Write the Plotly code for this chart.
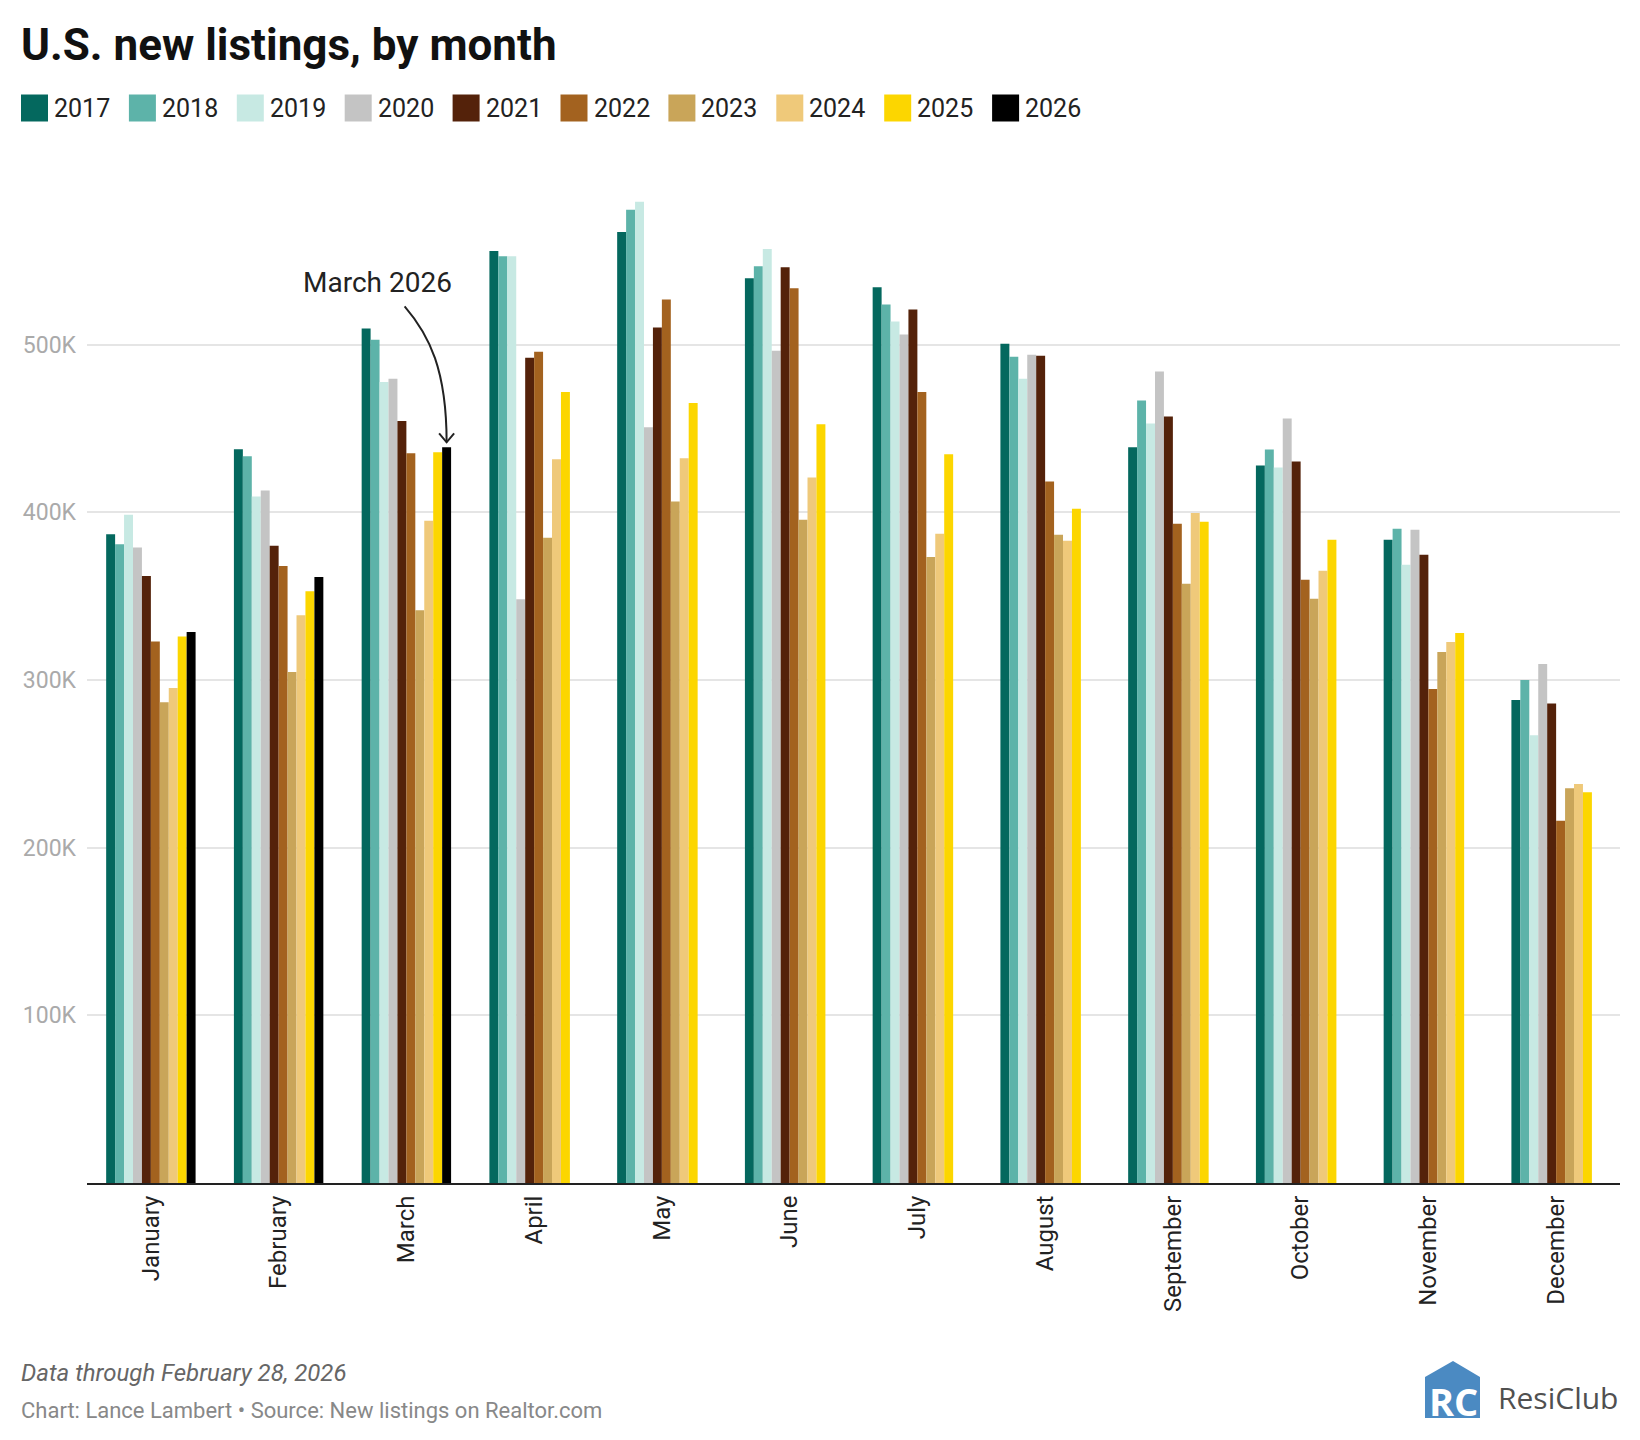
import plotly.graph_objects as go

# ---------------- data ----------------
months = ["January", "February", "March", "April", "May", "June", "July",
          "August", "September", "October", "November", "December"]
years = ["2017", "2018", "2019", "2020", "2021", "2022", "2023", "2024", "2025", "2026"]
colors = ["#04685e", "#5db3a9", "#c7e9e3", "#c4c4c4", "#54220a",
          "#a3621f", "#c9a559", "#efc97a", "#fcd600", "#000000"]

listings_2017 = [387000, 437600, 509600, 555800, 567200, 539600, 534200, 500600, 438800, 427900, 383700, 288000]
listings_2018 = [381000, 433400, 503000, 552800, 580400, 546800, 524000, 492800, 466700, 437500, 390200, 300000]
listings_2019 = [398600, 409400, 477800, 552800, 585200, 557000, 513800, 479600, 453000, 426700, 368700, 267000]
listings_2020 = [379000, 413000, 479600, 348200, 450800, 496400, 506000, 494000, 484000, 456000, 389600, 309500]
listings_2021 = [362000, 380000, 454400, 492200, 510200, 546200, 521000, 493400, 457200, 430300, 374700, 286000]
listings_2022 = [323000, 368000, 435200, 495800, 527000, 533600, 471800, 418400, 393200, 359800, 294600, 216000]
listings_2023 = [286800, 304700, 341600, 384800, 406400, 395600, 373400, 386600, 357400, 348400, 316700, 235500]
listings_2024 = [295200, 338600, 395000, 431600, 432200, 420800, 387200, 383000, 399600, 365100, 322700, 238000]
listings_2025 = [326000, 353000, 435800, 471800, 465200, 452600, 434600, 402200, 394400, 383700, 328000, 233000]
listings_2026 = [328600, 361400, 438800, None, None, None, None, None, None, None, None, None]

series = [listings_2017, listings_2018, listings_2019, listings_2020, listings_2021,
          listings_2022, listings_2023, listings_2024, listings_2025, listings_2026]

y_tick_vals = [100000, 200000, 300000, 400000, 500000]
y_tick_text = ["100K", "200K", "300K", "400K", "500K"]
y_max = 600000

title_text = "U.S. new listings, by month"
note_text = "Data through February 28, 2026"
credit_text = "Chart: Lance Lambert • Source: New listings on Realtor.com"
callout_text = "March 2026"
callout_month = "March"
callout_year = "2026"

# ---------------- layout geometry ----------------
W, H = 1640, 1440
ML, MR, MT, MB = 87, 20, 177, 257
PW, PH = W - ML - MR, H - MT - MB
BARGAP = 0.3
FONT = "Roboto"


def px(x):
    return (x - ML) / PW


def py(y):
    return (H - MB - y) / PH


fig = go.Figure()
for yr, col, vals in zip(years, colors, series):
    fig.add_trace(go.Bar(x=months, y=vals, name=yr, marker_color=col,
                         marker_line_width=0, hoverinfo="x+y+name"))

shapes = []
annotations = []

# title
annotations.append(dict(text="<b>" + title_text + "</b>", x=px(19), y=py(45),
                        xref="paper", yref="paper", xanchor="left", yanchor="middle",
                        showarrow=False, font=dict(family=FONT, size=44, color="#111111")))

# custom legend
for i, (yr, col) in enumerate(zip(years, colors)):
    x0 = 21 + i * 107.9
    shapes.append(dict(type="rect", xref="paper", yref="paper",
                       x0=px(x0), x1=px(x0 + 27), y0=py(94.5), y1=py(121.5),
                       fillcolor=col, line=dict(width=0)))
    annotations.append(dict(text=yr, x=px(x0 + 31), y=py(108), xref="paper", yref="paper",
                            xanchor="left", yanchor="middle", showarrow=False,
                            font=dict(family=FONT, size=25, color="#222222")))

# callout with curved arrow, tip computed from the bar position
ci = months.index(callout_month)
yi = years.index(callout_year)
n = len(years)
bw = (1 - BARGAP) / n
x_data = ci - (1 - BARGAP) / 2 + (yi + 0.5) * bw
tip_x = ML + (x_data + 0.5) / len(months) * PW
tip_y = H - MB - series[yi][ci] / y_max * PH - 5


def P(dx, dy):
    return "%f,%f" % (px(tip_x + dx), py(tip_y + dy))


shapes.append(dict(type="path", xref="paper", yref="paper",
                   path="M " + P(-42, -136) + " C " + P(-17, -107) + " " + P(0, -72) + " " + P(0, 0),
                   line=dict(color="#222222", width=2)))
shapes.append(dict(type="path", xref="paper", yref="paper",
                   path="M " + P(-7.5, -9) + " L " + P(0, 0) + " L " + P(7.5, -9),
                   line=dict(color="#222222", width=2)))
annotations.append(dict(text=callout_text, x=px(tip_x - 69), y=py(tip_y - 160),
                        xref="paper", yref="paper", xanchor="center", yanchor="middle",
                        showarrow=False, font=dict(family=FONT, size=28, color="#222222")))

# footer
annotations.append(dict(text="<i>" + note_text + "</i>", x=px(19), y=py(1373),
                        xref="paper", yref="paper", xanchor="left", yanchor="middle",
                        showarrow=False, font=dict(family=FONT, size=24, color="#666666")))
annotations.append(dict(text=credit_text, x=px(19), y=py(1410),
                        xref="paper", yref="paper", xanchor="left", yanchor="middle",
                        showarrow=False, font=dict(family=FONT, size=22, color="#888888")))

# logo
house = [(1425, 1418), (1425, 1377), (1453, 1361), (1480, 1377), (1480, 1418)]
shapes.append(dict(type="path", xref="paper", yref="paper",
                   path="M " + " L ".join("%f,%f" % (px(a), py(b)) for a, b in house) + " Z",
                   fillcolor="#4b8ac2", line=dict(width=0)))
annotations.append(dict(text="<b>RC</b>", x=px(1453), y=py(1401), xref="paper", yref="paper",
                        xanchor="center", yanchor="middle", showarrow=False,
                        font=dict(family="Open Sans", size=38, color="#ffffff")))
annotations.append(dict(text="ResiClub", x=px(1496), y=py(1397), xref="paper", yref="paper",
                        xanchor="left", yanchor="middle", showarrow=False,
                        font=dict(family="Open Sans", size=30, color="#505050")))

fig.update_layout(
    width=W, height=H, autosize=False,
    margin=dict(l=ML, r=MR, t=MT, b=MB, pad=0),
    paper_bgcolor="white", plot_bgcolor="white",
    barmode="group", bargap=BARGAP, bargroupgap=0,
    showlegend=False,
    font=dict(family=FONT),
    shapes=shapes, annotations=annotations,
    xaxis=dict(type="category", range=[-0.5, len(months) - 0.5], showline=True,
               linecolor="#222222", linewidth=2, ticks="", tickangle=-90,
               tickfont=dict(family=FONT, size=24, color="#222222"), showgrid=False,
               ticklabelstandoff=1),
    yaxis=dict(range=[0, y_max], tickvals=y_tick_vals, ticktext=y_tick_text,
               showgrid=True, gridcolor="#e5e5e5", gridwidth=2, zeroline=False,
               showline=False, ticks="",
               tickfont=dict(family=FONT, size=23, color="#aaaaaa"),
               ticklabelstandoff=10),
)

fig.write_html("out.html", config={"displayModeBar": False},
               post_script="document.body.style.margin='0px';document.body.style.overflow='hidden';")
